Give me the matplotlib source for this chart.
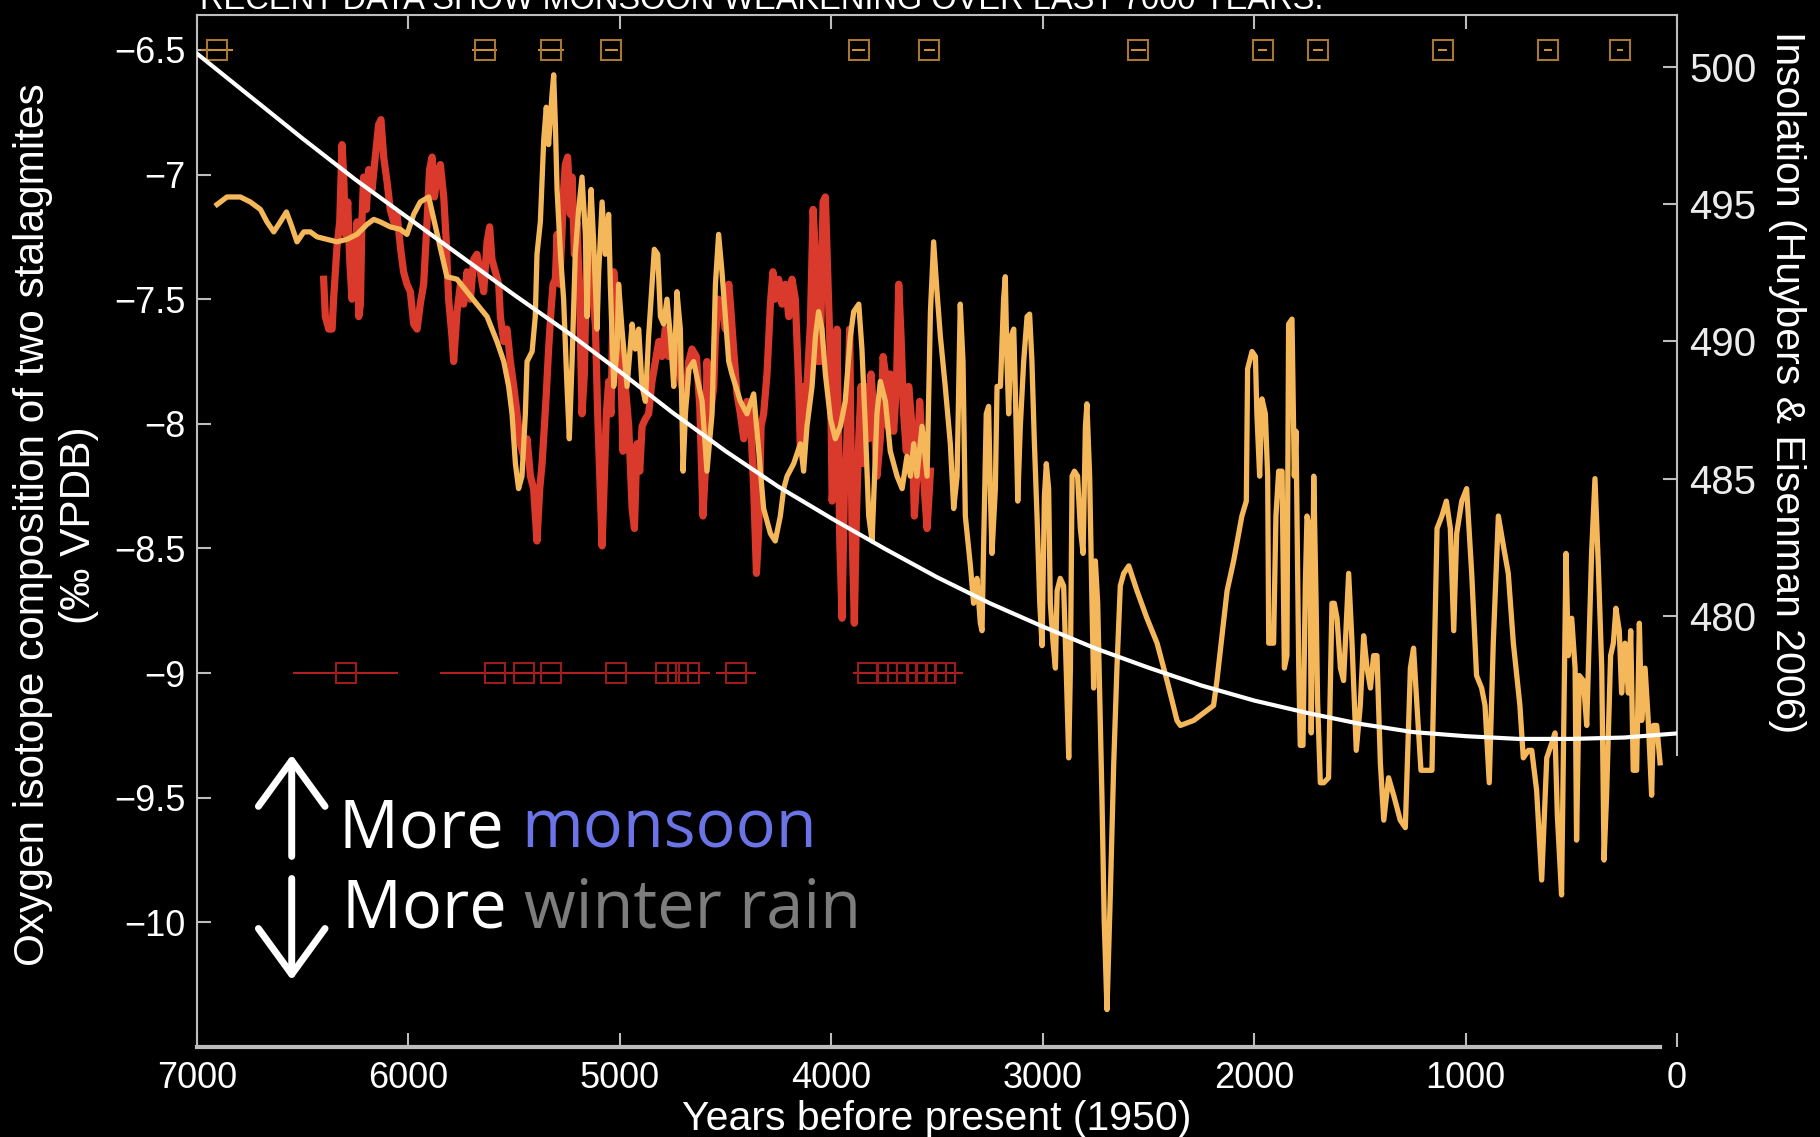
import numpy as np
import matplotlib.pyplot as plt

# stalagmite 1 (yellow), years BP and d18O
yellow_years = [6905, 6858, 6795, 6748, 6700, 6669, 6637, 6606, 6577, 6551, 6527, 6495, 6464, 6432, 6385,
                6338, 6291, 6243, 6196, 6164, 6133, 6086, 6038, 6007, 5975, 5944, 5904, 5818, 5770, 5723,
                5676, 5628, 5581, 5549, 5526, 5510, 5494, 5479, 5463, 5447, 5439, 5415, 5400, 5392, 5376,
                5360, 5348, 5337, 5321, 5313, 5305, 5297, 5281, 5266, 5250, 5239, 5226, 5211, 5195, 5179,
                5163, 5155, 5147, 5136, 5124, 5108, 5100, 5084, 5069, 5053, 5045, 5029, 5013, 5006, 4990,
                4966, 4942, 4927, 4911, 4895, 4879, 4864, 4848, 4837, 4821, 4808, 4793, 4777, 4761, 4745,
                4730, 4714, 4701, 4690, 4674, 4651, 4611, 4588, 4564, 4548, 4533, 4517, 4501, 4485, 4470,
                4430, 4399, 4367, 4343, 4320, 4288, 4265, 4241, 4225, 4209, 4178, 4146, 4131, 4115, 4091,
                4075, 4060, 4044, 4028, 4004, 3981, 3957, 3934, 3910, 3894, 3870, 3855, 3839, 3823, 3807,
                3784, 3768, 3744, 3721, 3689, 3665, 3642, 3626, 3610, 3595, 3571, 3547, 3531, 3516, 3500,
                3484, 3461, 3437, 3421, 3405, 3390, 3377, 3366, 3342, 3327, 3311, 3295, 3287, 3279, 3267,
                3256, 3248, 3240, 3224, 3216, 3200, 3185, 3177, 3169, 3161, 3150, 3137, 3130, 3118, 3106,
                3090, 3074, 3062, 3051, 3040, 3027, 3014, 3003, 2992, 2983, 2972, 2964, 2951, 2940, 2932,
                2917, 2901, 2888, 2877, 2869, 2861, 2850, 2835, 2822, 2809, 2798, 2791, 2778, 2767, 2759,
                2751, 2740, 2731, 2720, 2709, 2696, 2680, 2664, 2649, 2633, 2617, 2593, 2554, 2507, 2459,
                2412, 2365, 2349, 2286, 2192, 2176, 2152, 2128, 2097, 2058, 2037, 2031, 2010, 1994, 1987,
                1974, 1963, 1947, 1936, 1931, 1908, 1897, 1884, 1868, 1857, 1845, 1837, 1821, 1810, 1802,
                1789, 1782, 1769, 1758, 1750, 1737, 1730, 1718, 1707, 1700, 1687, 1671, 1648, 1632, 1621,
                1608, 1592, 1577, 1553, 1537, 1517, 1498, 1482, 1466, 1450, 1435, 1419, 1403, 1387, 1364,
                1340, 1309, 1285, 1261, 1246, 1230, 1211, 1183, 1159, 1135, 1112, 1091, 1072, 1056, 1042,
                1018, 995, 971, 948, 924, 908, 888, 869, 845, 821, 798, 774, 743, 727, 703,
                687, 664, 640, 616, 596, 577, 566, 546, 525, 514, 498, 482, 475, 462, 443,
                427, 404, 388, 372, 356, 345, 333, 314, 301, 289, 273, 262, 246, 230, 219,
                207, 191, 178, 167, 151, 136, 120, 112, 96, 80]
yellow_d18o = [-7.12, -7.09, -7.09, -7.11, -7.14, -7.19, -7.23, -7.19, -7.15, -7.21, -7.27, -7.23, -7.23, -7.25, -7.26,
               -7.27, -7.26, -7.24, -7.20, -7.18, -7.19, -7.21, -7.22, -7.24, -7.16, -7.11, -7.09, -7.41, -7.42, -7.47,
               -7.52, -7.57, -7.67, -7.75, -7.85, -7.96, -8.16, -8.26, -8.21, -7.96, -7.75, -7.71, -7.57, -7.32, -7.19,
               -6.86, -6.73, -6.88, -6.68, -6.60, -6.80, -7.06, -7.32, -7.50, -7.85, -8.06, -7.75, -7.32, -7.14, -7.01,
               -7.24, -7.57, -7.27, -7.06, -7.27, -7.62, -7.39, -7.11, -7.32, -7.16, -7.44, -7.85, -7.70, -7.44, -7.62,
               -7.85, -7.60, -7.70, -7.62, -7.85, -7.91, -7.65, -7.44, -7.30, -7.32, -7.57, -7.60, -7.50, -7.65, -7.85,
               -7.47, -7.62, -8.19, -7.96, -7.78, -7.75, -7.91, -8.19, -7.96, -7.44, -7.24, -7.39, -7.57, -7.75, -7.80,
               -7.91, -7.96, -7.88, -8.11, -8.34, -8.44, -8.47, -8.37, -8.26, -8.21, -8.16, -8.08, -8.19, -8.01, -7.85,
               -7.65, -7.55, -7.62, -7.80, -7.98, -8.06, -8.01, -7.91, -7.65, -7.55, -7.52, -7.70, -8.01, -8.37, -8.47,
               -7.96, -7.83, -7.91, -8.11, -8.21, -8.26, -8.13, -8.21, -8.08, -8.21, -8.01, -8.21, -7.55, -7.27, -7.47,
               -7.65, -7.85, -8.08, -8.34, -8.21, -7.52, -7.75, -8.37, -8.57, -8.72, -8.62, -8.80, -8.83, -8.47, -7.96,
               -7.93, -8.26, -8.52, -8.26, -7.85, -7.85, -7.50, -7.41, -7.75, -7.96, -7.65, -7.62, -7.85, -8.31, -8.01,
               -7.75, -7.57, -7.56, -7.75, -8.06, -8.37, -8.72, -8.89, -8.29, -8.16, -8.26, -8.72, -8.88, -8.98, -8.67,
               -8.62, -8.65, -9.01, -9.34, -8.98, -8.21, -8.19, -8.21, -8.42, -8.52, -8.01, -7.92, -8.21, -8.72, -9.06,
               -8.55, -8.72, -9.06, -9.49, -10.00, -10.35, -9.88, -9.36, -8.98, -8.65, -8.60, -8.57, -8.67, -8.78, -8.88,
               -9.03, -9.19, -9.21, -9.19, -9.13, -9.03, -8.85, -8.67, -8.55, -8.37, -8.31, -7.78, -7.71, -7.73, -7.96,
               -8.21, -7.90, -7.96, -8.21, -8.88, -8.88, -8.37, -8.19, -8.19, -8.98, -8.93, -7.60, -7.58, -8.21, -8.03,
               -8.98, -9.29, -9.29, -8.65, -8.37, -8.42, -9.24, -8.21, -8.72, -9.11, -9.44, -9.44, -9.42, -8.72, -8.72,
               -8.78, -8.98, -9.03, -8.60, -8.88, -9.31, -9.13, -8.85, -8.98, -9.06, -8.93, -8.93, -9.36, -9.59, -9.42,
               -9.49, -9.59, -9.62, -8.98, -8.90, -9.13, -9.39, -9.39, -9.39, -8.42, -8.37, -8.31, -8.42, -8.83, -8.44,
               -8.31, -8.26, -8.60, -9.01, -9.06, -9.13, -9.44, -8.88, -8.37, -8.49, -8.60, -8.88, -9.13, -9.34, -9.31,
               -9.31, -9.47, -9.83, -9.34, -9.29, -9.24, -9.57, -9.89, -8.52, -8.93, -8.78, -8.98, -9.67, -9.01, -9.03,
               -9.21, -8.52, -8.22, -8.57, -8.98, -9.75, -9.49, -8.93, -8.88, -8.74, -8.83, -9.08, -8.88, -9.08, -8.83,
               -9.39, -9.39, -8.80, -9.19, -8.98, -9.19, -9.49, -9.21, -9.21, -9.36]

# stalagmite 2 (red)
red_years = [6401, 6393, 6377, 6361, 6354, 6338, 6325, 6314, 6306, 6298, 6287, 6278, 6267, 6256, 6243,
             6235, 6227, 6220, 6212, 6199, 6188, 6172, 6157, 6141, 6130, 6117, 6101, 6086, 6070, 6054,
             6038, 6023, 6007, 5991, 5975, 5959, 5944, 5928, 5912, 5900, 5888, 5877, 5865, 5849, 5833,
             5821, 5810, 5794, 5786, 5770, 5754, 5739, 5723, 5707, 5691, 5676, 5660, 5644, 5628, 5616,
             5605, 5589, 5573, 5565, 5549, 5534, 5518, 5502, 5486, 5471, 5455, 5439, 5423, 5408, 5392,
             5379, 5368, 5357, 5348, 5337, 5326, 5316, 5305, 5297, 5285, 5274, 5266, 5258, 5247, 5234,
             5226, 5215, 5203, 5190, 5179, 5168, 5155, 5143, 5127, 5116, 5105, 5095, 5084, 5073, 5064,
             5053, 5042, 5029, 5018, 5010, 4998, 4985, 4974, 4958, 4942, 4931, 4919, 4906, 4895, 4879,
             4864, 4848, 4832, 4816, 4801, 4785, 4769, 4753, 4738, 4722, 4706, 4690, 4674, 4659, 4638,
             4622, 4607, 4596, 4588, 4572, 4556, 4548, 4533, 4517, 4501, 4485, 4477, 4462, 4446, 4430,
             4414, 4399, 4383, 4367, 4354, 4343, 4332, 4320, 4304, 4288, 4276, 4265, 4249, 4233, 4217,
             4201, 4186, 4170, 4154, 4146, 4134, 4123, 4112, 4099, 4086, 4075, 4064, 4052, 4039, 4028,
             4017, 4004, 3996, 3985, 3973, 3960, 3949, 3938, 3926, 3913, 3902, 3891, 3881, 3870, 3859,
             3847, 3834, 3823, 3812, 3799, 3784, 3768, 3755, 3744, 3733, 3721, 3705, 3692, 3681, 3670,
             3658, 3645, 3634, 3618, 3607, 3594, 3582, 3571, 3560, 3547, 3531]
red_d18o = [-7.42, -7.57, -7.62, -7.62, -7.50, -7.29, -7.19, -6.88, -7.01, -7.24, -7.11, -7.34, -7.50, -7.39, -7.19,
            -7.57, -7.52, -7.19, -7.01, -7.14, -6.98, -7.06, -6.93, -6.80, -6.78, -6.93, -7.03, -7.14, -7.19, -7.16,
            -7.29, -7.39, -7.44, -7.47, -7.60, -7.62, -7.52, -7.44, -7.19, -6.98, -6.93, -7.09, -7.01, -6.96, -7.09,
            -7.27, -7.50, -7.65, -7.75, -7.55, -7.44, -7.52, -7.39, -7.50, -7.34, -7.32, -7.39, -7.47, -7.27, -7.21,
            -7.34, -7.39, -7.44, -7.57, -7.67, -7.62, -7.75, -7.85, -7.96, -8.08, -8.13, -8.06, -8.21, -8.26, -8.47,
            -8.26, -8.16, -8.01, -7.88, -7.70, -7.55, -7.44, -7.42, -7.24, -7.44, -7.24, -7.06, -6.96, -6.93, -7.16,
            -7.01, -7.32, -7.19, -7.50, -7.96, -7.80, -7.27, -7.19, -7.50, -7.60, -7.96, -8.21, -8.49, -8.21, -7.96,
            -7.83, -7.96, -7.39, -7.52, -7.78, -7.70, -8.11, -7.85, -8.01, -8.34, -8.42, -8.08, -8.19, -8.01, -7.98,
            -7.96, -7.83, -7.75, -7.67, -7.73, -7.62, -7.73, -7.65, -7.70, -7.78, -7.85, -7.91, -7.75, -7.70, -7.73,
            -7.93, -8.37, -8.19, -7.75, -7.96, -7.85, -7.65, -7.50, -7.52, -7.62, -7.44, -7.52, -7.70, -7.88, -7.96,
            -8.06, -7.91, -7.96, -8.26, -8.60, -8.42, -8.01, -7.96, -7.80, -7.52, -7.39, -7.50, -7.42, -7.52, -7.44,
            -7.57, -7.42, -7.50, -7.85, -8.11, -7.85, -7.96, -7.80, -7.60, -7.14, -7.32, -7.75, -7.75, -7.11, -7.09,
            -7.39, -7.75, -8.31, -8.16, -7.62, -8.47, -8.78, -8.26, -8.06, -7.62, -8.42, -8.80, -8.37, -8.06, -7.85,
            -8.16, -7.85, -8.06, -7.80, -7.96, -8.21, -8.06, -7.73, -7.80, -8.01, -7.80, -8.03, -7.85, -7.44, -7.65,
            -7.96, -8.11, -7.85, -8.01, -8.37, -8.19, -7.91, -8.08, -8.26, -8.42, -8.19]

# summer insolation (W/m2)
insol_years = [7000, 6750, 6500, 6250, 6000, 5750, 5500, 5250, 5000, 4750, 4500, 4250, 4000, 3750, 3500,
               3250, 3000, 2750, 2500, 2250, 2000, 1750, 1500, 1250, 1000, 750, 500, 250, 0]
insol_wm2 = [500.5, 498.95, 497.4, 495.9, 494.5, 493.1, 491.7, 490.35, 488.9, 487.4, 486.0, 484.7, 483.55, 482.45, 481.4,
             480.45, 479.6, 478.8, 478.1, 477.45, 476.9, 476.45, 476.05, 475.75, 475.6, 475.5, 475.5, 475.55, 475.7]

# U-Th dates with errors
top_dates = [6907, 5639, 5326, 5040, 3871, 3536, 2547, 1960, 1697, 1109, 609, 269]
top_err = [75, 60, 60, 30, 30, 25, 35, 20, 25, 20, 20, 15]
red_dates = [6297, 5589, 5453, 5324, 5020, 4782, 4724, 4675, 4450, 3826, 3735, 3685, 3640, 3595, 3550, 3505, 3462]
red_err = [247, 260, 120, 110, 190, 100, 120, 100, 95, 70, 60, 60, 60, 60, 60, 60, 85]

xticks = [7000, 6000, 5000, 4000, 3000, 2000, 1000, 0]
yticks = [-6.5, -7, -7.5, -8, -8.5, -9, -9.5, -10]
ytick_labels = ['\u22126.5', '\u22127', '\u22127.5', '\u22128', '\u22128.5', '\u22129', '\u22129.5', '\u221210']
insol_ticks = [480, 485, 490, 495, 500]

plt.rcParams['font.family'] = ['Liberation Sans', 'DejaVu Sans']

fig = plt.figure(figsize=(18.2, 11.37), dpi=100, facecolor='black')
ax = fig.add_axes([197 / 1820, 90 / 1137, 1480 / 1820, 1032 / 1137])
ax.set_facecolor('black')

spine_col = '#bdbdbd'
ax.plot(red_years, red_d18o, color='#d93a2b', lw=5.2, zorder=3)
ax.plot(yellow_years, yellow_d18o, color='#f4b75a', lw=3.8, zorder=4)

ax.errorbar(top_dates, [-6.5] * len(top_dates), xerr=top_err, fmt='s', ms=14, mfc='none',
            mec='#a87830', ecolor='#c89038', elinewidth=1.5, mew=1.5, capsize=0, zorder=5)
ax.errorbar(red_dates, [-9] * len(red_dates), xerr=red_err, fmt='s', ms=14, mfc='none',
            mec='#9a1c1c', ecolor='#b02020', elinewidth=1.5, mew=1.5, capsize=0, zorder=5)

ax.set_xlim(7000, 0)
ax.set_ylim(-10.5, -6.36)
ax.set_xticks(xticks)
ax.set_yticks(yticks)
ax.set_yticklabels(ytick_labels)
ax.tick_params(axis='both', direction='in', length=10, width=1.5, color=spine_col,
               labelcolor='white', labelsize=26, top=True, right=False)
ax.tick_params(axis='x', pad=10)
ax.tick_params(axis='y', pad=8)
for side in ['left', 'top']:
    ax.spines[side].set_color(spine_col)
    ax.spines[side].set_linewidth(1.5)
ax.spines['bottom'].set_color(spine_col)
ax.spines['bottom'].set_linewidth(3)
ax.spines['bottom'].set_bounds(80, 7000)
ax.spines['right'].set_visible(False)

ax2 = ax.twinx()
ax2.plot(insol_years, insol_wm2, color='white', lw=3, zorder=6)
ax2.set_ylim(464.26, 501.91)
ax2.set_yticks(insol_ticks)
ax2.tick_params(axis='y', direction='in', length=10, width=1.5, color=spine_col,
                labelcolor='#ececec', labelsize=29, pad=9)
for side in ['left', 'top', 'bottom']:
    ax2.spines[side].set_visible(False)
ax2.spines['right'].set_color(spine_col)
ax2.spines['right'].set_linewidth(1.5)
ax2.spines['right'].set_bounds(474.9, 501.91)

# labels
fig.text(56 / 1820, 1 - 525 / 1137, 'Oxygen isotope composition of two stalagmites\n(\u2030 VPDB)',
         rotation=90, ha='center', va='center', color='white', fontsize=30.5, linespacing=1.2)
fig.text(1787 / 1820, 1 - 382 / 1137, 'Insolation (Huybers & Eisenman 2006)',
         rotation=270, ha='center', va='center', color='white', fontsize=29.5)
fig.text(937 / 1820, 1 - 1119 / 1137, 'Years before present (1950)',
         ha='center', va='center', color='white', fontsize=29.5)
fig.text(200 / 1820, 1 - 9 / 1137, 'RECENT DATA SHOW MONSOON WEAKENING OVER LAST 7000 YEARS.',
         ha='left', va='baseline', color='white', fontsize=23.5)

# arrows and annotation
arrow_kw = dict(arrowstyle='->,head_length=0.55,head_width=0.4', lw=5, color='white', mutation_scale=60)
ax.annotate('', xy=(0.064, 0.286), xytext=(0.064, 0.182), xycoords='axes fraction', arrowprops=arrow_kw)
ax.annotate('', xy=(0.064, 0.062), xytext=(0.064, 0.166), xycoords='axes fraction', arrowprops=arrow_kw)

t1 = ax.text(0.096, 0.193, 'More ', transform=ax.transAxes, color='white', fontsize=48,
             family='Open Sans', va='baseline')
ax.annotate('monsoon', xy=(1, 0), xycoords=t1, va='bottom', ha='left', color='#6a74e6',
            fontsize=48, family='Open Sans')
t2 = ax.text(0.098, 0.116, 'More ', transform=ax.transAxes, color='white', fontsize=48,
             family='Open Sans', va='baseline')
ax.annotate('winter rain', xy=(1, 0), xycoords=t2, va='bottom', ha='left', color='#7d7d7d',
            fontsize=48, family='Open Sans')

fig.savefig('out.png', dpi=100, facecolor='black')
